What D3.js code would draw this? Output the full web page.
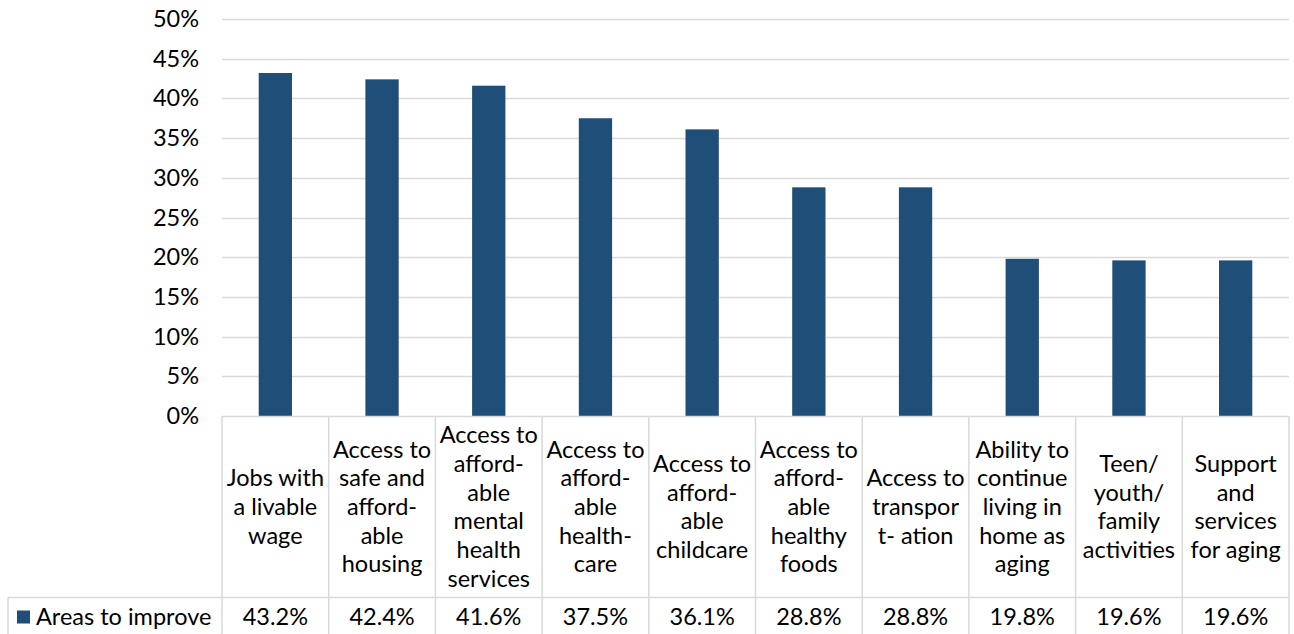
<!DOCTYPE html>
<html>
<head>
<meta charset="utf-8">
<script src="https://cdn.jsdelivr.net/npm/d3@7"></script>
<style>
  html, body { margin: 0; padding: 0; background: #fff; }
  svg { display: block; font-family: Lato, "Open Sans", sans-serif; }
</style>
</head>
<body>
<svg id="chart" width="1294" height="634"></svg>
<script>
const categories = [
  ["Jobs with", "a livable", "wage"],
  ["Access to", "safe and", "afford-", "able", "housing"],
  ["Access to", "afford-", "able", "mental", "health", "services"],
  ["Access to", "afford-", "able", "health-", "care"],
  ["Access to", "afford-", "able", "childcare"],
  ["Access to", "afford-", "able", "healthy", "foods"],
  ["Access to", "transpor", "t- ation"],
  ["Ability to", "continue", "living in", "home as", "aging"],
  ["Teen/", "youth/", "family", "activities"],
  ["Support", "and", "services", "for aging"]
];
const seriesName = "Areas to improve";
const values = [43.2, 42.4, 41.6, 37.5, 36.1, 28.8, 28.8, 19.8, 19.6, 19.6];
const yTicks = [0, 5, 10, 15, 20, 25, 30, 35, 40, 45, 50];

(function () {
const svg = d3.select("#chart");
const pLeft = 222, pRight = 1289, pTop = 19, pBottom = 416;
const catRowBottom = 597.5, valRowBottom = 640, legendLeft = 8;
const barColor = "#1f4e79", gridColor = "#d9d9d9", textColor = "#000";
const fontSize = 23.5, lineH = 28.7;

const x = d3.scaleBand().domain(d3.range(categories.length)).range([pLeft, pRight]).paddingInner(0).paddingOuter(0);
const y = d3.scaleLinear().domain([0, 50]).range([pBottom, pTop]);

// gridlines
svg.append("g").selectAll("line").data(yTicks.filter(t => t > 0)).join("line")
  .attr("x1", pLeft).attr("x2", pRight)
  .attr("y1", d => Math.round(y(d)) + 0.5).attr("y2", d => Math.round(y(d)) + 0.5)
  .attr("stroke", gridColor).attr("stroke-width", 1.3);

// y axis labels
const yAxis = d3.axisLeft(y).tickValues(yTicks).tickFormat(d => d + "%").tickSize(0).tickPadding(0);
const gy = svg.append("g").attr("transform", `translate(${pLeft - 23},0)`).call(yAxis);
gy.select(".domain").remove();
gy.selectAll("text").attr("font-size", fontSize).attr("fill", textColor)
  .attr("font-family", "Lato, sans-serif");

// bars
const barW = 33.3;
svg.append("g").selectAll("rect").data(values).join("rect")
  .attr("x", (d, i) => x(i) + x.bandwidth() / 2 - barW / 2)
  .attr("width", barW)
  .attr("y", d => y(d))
  .attr("height", d => y(0) - y(d))
  .attr("fill", barColor);

// data table lines
const tbl = svg.append("g").attr("stroke", gridColor).attr("stroke-width", 1.5).attr("fill", "none");
tbl.append("line").attr("x1", pLeft).attr("x2", pRight).attr("y1", pBottom + 0.5).attr("y2", pBottom + 0.5);
tbl.append("line").attr("x1", legendLeft).attr("x2", pRight).attr("y1", catRowBottom).attr("y2", catRowBottom);
tbl.append("line").attr("x1", legendLeft).attr("x2", pRight).attr("y1", valRowBottom).attr("y2", valRowBottom);
tbl.append("line").attr("x1", legendLeft).attr("x2", legendLeft).attr("y1", catRowBottom).attr("y2", valRowBottom);
const bounds = d3.range(categories.length + 1).map(i => i < categories.length ? x(i) : pRight);
tbl.selectAll("line.v").data(bounds).join("line").attr("class", "v")
  .attr("x1", d => d).attr("x2", d => d)
  .attr("y1", pBottom).attr("y2", valRowBottom);

// category labels
const catMid = (pBottom + catRowBottom) / 2;
const cg = svg.append("g").attr("font-size", fontSize).attr("fill", textColor).attr("text-anchor", "middle");
categories.forEach((lines, i) => {
  const cx = x(i) + x.bandwidth() / 2;
  const t = cg.append("text").attr("x", cx);
  const startY = catMid - (lines.length - 1) * lineH / 2;
  lines.forEach((ln, k) => {
    t.append("tspan").attr("x", cx).attr("y", startY + k * lineH).attr("dy", "0.35em").text(ln);
  });
});

// value row
const valMid = 617;
svg.append("g").attr("font-size", fontSize).attr("fill", textColor).attr("text-anchor", "middle")
  .selectAll("text").data(values).join("text")
  .attr("x", (d, i) => x(i) + x.bandwidth() / 2)
  .attr("y", valMid).attr("dy", "0.35em")
  .text(d => d.toFixed(1) + "%");

// legend
svg.append("rect").attr("x", 17).attr("y", valMid - 6.5).attr("width", 13).attr("height", 13).attr("fill", barColor);
svg.append("text").attr("x", 36).attr("y", valMid).attr("dy", "0.35em")
  .attr("font-size", fontSize).attr("fill", textColor).text(seriesName);
})();
</script>
</body>
</html>
